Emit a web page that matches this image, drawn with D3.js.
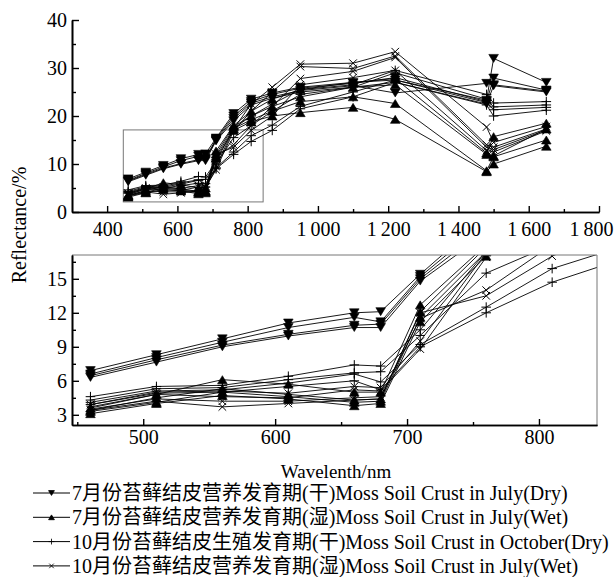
<!DOCTYPE html>
<html>
<head>
<meta charset="utf-8">
<script src="https://cdn.jsdelivr.net/npm/d3@7/dist/d3.min.js"></script>
<style>
  body { margin: 0; background: #fff; }
</style>
</head>
<body>
<div id="chart"></div>
<script>
// wavelengths (nm) measured
var wavelengths = [460, 510, 560, 610, 660, 680, 710, 760, 810, 870, 950, 1100, 1220, 1480, 1500, 1650];

// 7月 干 (dry, July) — 4 samples
var julyDry = [
  [6.9, 8.3, 9.7, 11.1, 12.0, 12.1, 15.4, 20.5, 23.5, 24.8, 26.0, 27.0, 27.5, 23.3, 32.0, 27.0],
  [6.6, 8.05, 9.4, 10.7, 11.6, 11.2, 15.2, 20.0, 23.0, 24.5, 25.8, 26.8, 28.0, 23.0, 27.9, 25.4],
  [6.45, 7.85, 9.15, 10.1, 10.9, 11.0, 15.0, 19.5, 22.7, 24.0, 25.3, 26.3, 24.8, 26.8, 26.5, 25.2],
  [6.3, 7.65, 9.0, 9.95, 10.7, 10.7, 14.8, 19.0, 22.3, 23.7, 25.0, 26.0, 27.0, 22.5, 26.3, 25.0]
];
// 7月 湿 (wet, July)
var julyWet = [
  [3.6, 4.8, 6.1, 5.7, 5.0, 5.0, 12.7, 18.0, 21.0, 23.5, 25.5, 27.0, 27.8, 12.3, 15.7, 18.5],
  [3.4, 4.5, 5.3, 4.8, 4.3, 4.4, 12.1, 17.8, 20.0, 22.0, 24.0, 26.0, 26.5, 12.0, 11.7, 17.3],
  [3.3, 4.1, 5.0, 4.6, 4.1, 4.2, 11.6, 17.4, 19.2, 21.0, 23.0, 24.0, 22.6, 8.6, 11.5, 15.0],
  [3.1, 4.0, 4.7, 4.4, 3.8, 4.0, 11.2, 17.0, 18.8, 20.0, 20.7, 21.8, 19.3, 8.4, 10.0, 13.7]
];
// 10月 干 (dry, October)
var octDry = [
  [4.6, 5.5, 5.6, 6.4, 7.4, 7.3, 10.5, 17.4, 20.0, 22.5, 25.5, 26.5, 29.5, 24.5, 22.7, 23.0],
  [4.3, 5.3, 5.4, 6.1, 6.7, 6.8, 10.0, 15.5, 18.0, 21.0, 24.5, 26.0, 29.0, 23.5, 21.9, 22.3],
  [4.1, 5.1, 5.2, 5.8, 6.6, 5.9, 9.2, 12.5, 15.9, 18.1, 22.0, 25.0, 27.5, 22.8, 21.3, 21.8],
  [3.9, 4.9, 5.0, 5.5, 6.0, 5.2, 9.0, 12.0, 14.7, 17.0, 21.5, 24.0, 27.0, 22.3, 20.0, 21.2]
];
// 10月 湿 (wet, October)
var octWet = [
  [3.9, 5.0, 5.1, 4.9, 5.5, 5.4, 9.5, 17.3, 22.5, 26.0, 30.8, 31.0, 33.4, 17.7, 14.5, 17.8],
  [3.7, 4.8, 4.6, 4.5, 5.2, 5.1, 8.8, 16.9, 21.0, 25.0, 30.3, 29.9, 32.5, 14.0, 13.5, 17.3],
  [3.5, 4.4, 4.2, 4.2, 4.5, 4.6, 11.5, 14.0, 18.0, 22.0, 27.8, 29.3, 32.2, 13.5, 13.0, 17.1],
  [3.4, 4.2, 3.7, 4.0, 4.3, 4.4, 12.0, 13.5, 17.0, 20.0, 26.5, 28.0, 29.5, 12.8, 12.5, 16.9]
];

var legendLabels = [
  "7月份苔藓结皮营养发育期(干)Moss Soil Crust in July(Dry)",
  "7月份苔藓结皮营养发育期(湿)Moss Soil Crust in July(Wet)",
  "10月份苔藓结皮生殖发育期(干)Moss Soil Crust in October(Dry)",
  "10月份苔藓结皮营养发育期(湿)Moss Soil Crust in July(Wet)"
];

var topXTicks = [400, 600, 800, 1000, 1200, 1400, 1600, 1800];
var topYTicks = [0, 10, 20, 30, 40];
var botXTicks = [500, 600, 700, 800];
var botYTicks = [3, 6, 9, 12, 15];

var FONT = '"Liberation Serif", "Times New Roman", "Noto Sans CJK SC", serif';

// marker shapes
var markers = {
  down: "M-4.8,-4L4.8,-4L0,4Z",
  up: "M-4.8,4L4.8,4L0,-4Z",
  plus: "M-4.8,0H4.8M0,-4.8V4.8",
  cross: "M-3.8,-3.8L3.8,3.8M-3.8,3.8L3.8,-3.8"
};

var groups = [
  { data: octDry, shape: "plus" },
  { data: octWet, shape: "cross" },
  { data: julyWet, shape: "up" },
  { data: julyDry, shape: "down" }
];
var legendShapes = ["down", "up", "plus", "cross"];

var W = 616, H = 577;
var svg = d3.select("#chart").append("svg")
  .attr("width", W)
  .attr("height", H);

// ---------- top panel ----------
var x1 = d3.scaleLinear().domain([300, 1800]).range([72, 599]);
var y1 = d3.scaleLinear().domain([0, 40]).range([212, 20]);

// ---------- bottom panel ----------
var x2 = d3.scaleLinear().domain([446, 844]).range([72, 597]);
var y2 = d3.scaleLinear().domain([2.1, 17.1]).range([425, 255]);

svg.append("defs").append("clipPath").attr("id", "clip2")
  .append("rect")
  .attr("x", x2.range()[0]).attr("y", y2.range()[1])
  .attr("width", x2.range()[1] - x2.range()[0])
  .attr("height", y2.range()[0] - y2.range()[1]);

function drawSeries(g, xs, ys) {
  groups.forEach(function(grp) {
    grp.data.forEach(function(vals) {
      var pts = wavelengths.map(function(w, i) { return [w, vals[i]]; });
      var line = d3.line().x(function(d) { return xs(d[0]); }).y(function(d) { return ys(d[1]); });
      g.append("path")
        .attr("d", line(pts))
        .attr("fill", "none")
        .attr("stroke", "#000")
        .attr("stroke-width", 0.9);
    });
  });
  groups.forEach(function(grp) {
    var filled = grp.shape == "up" || grp.shape == "down";
    grp.data.forEach(function(vals) {
      g.selectAll(null)
        .data(wavelengths.map(function(w, i) { return [w, vals[i]]; }))
        .enter().append("path")
        .attr("transform", function(d) { return "translate(" + xs(d[0]) + "," + ys(d[1]) + ")"; })
        .attr("d", markers[grp.shape])
        .attr("fill", filled ? "#000" : "none")
        .attr("stroke", "#000")
        .attr("stroke-width", filled ? 0.6 : 1);
    });
  });
}

// zoom window in the top panel
svg.append("rect")
  .attr("x", x1(x2.domain()[0]))
  .attr("y", y1(y2.domain()[1]))
  .attr("width", x1(x2.domain()[1]) - x1(x2.domain()[0]))
  .attr("height", y1(y2.domain()[0]) - y1(y2.domain()[1]))
  .attr("fill", "none")
  .attr("stroke", "#777")
  .attr("stroke-width", 1);

drawSeries(svg.append("g"), x1, y1);

var fmtK = function(d) { return d >= 1000 ? Math.floor(d / 1000) + "\u2009" + d3.format("03d")(d % 1000) : d; };

// top axes
var gx1 = svg.append("g").attr("transform", "translate(0," + y1(0) + ")")
  .call(d3.axisBottom(x1).tickValues(topXTicks).tickSize(-6).tickSizeOuter(0).tickPadding(10).tickFormat(fmtK));
svg.append("g").attr("transform", "translate(0," + y1(0) + ")")
  .call(d3.axisBottom(x1).tickValues(d3.range(500, 1800, 200)).tickSize(-3).tickSizeOuter(0).tickFormat(""));
var gy1 = svg.append("g").attr("transform", "translate(" + x1(300) + ",0)")
  .call(d3.axisLeft(y1).tickValues(topYTicks).tickSize(-7).tickSizeOuter(0).tickPadding(5));
svg.append("g").attr("transform", "translate(" + x1(300) + ",0)")
  .call(d3.axisLeft(y1).tickValues([5, 15, 25, 35]).tickSize(-4).tickSizeOuter(0).tickFormat(""));

// bottom panel
drawSeries(svg.append("g").attr("clip-path", "url(#clip2)"), x2, y2);

// gray frame (top/right)
svg.append("path")
  .attr("d", "M" + x2.range()[0] + "," + y2.range()[1] + "H" + x2.range()[1] + "V" + y2.range()[0])
  .attr("fill", "none")
  .attr("stroke", "#777")
  .attr("stroke-width", 1);

var gx2 = svg.append("g").attr("transform", "translate(0," + y2.range()[0] + ")")
  .call(d3.axisBottom(x2).tickValues(botXTicks).tickSize(-6).tickSizeOuter(0).tickPadding(5));
svg.append("g").attr("transform", "translate(0," + y2.range()[0] + ")")
  .call(d3.axisBottom(x2).tickValues([450, 550, 650, 750]).tickSize(-3).tickSizeOuter(0).tickFormat(""));
var gy2 = svg.append("g").attr("transform", "translate(" + x2.range()[0] + ",0)")
  .call(d3.axisLeft(y2).tickValues(botYTicks).tickSize(-7).tickSizeOuter(0).tickPadding(5));
svg.append("g").attr("transform", "translate(" + x2.range()[0] + ",0)")
  .call(d3.axisLeft(y2).tickValues([4.5, 7.5, 10.5, 13.5, 16.5]).tickSize(-4).tickSizeOuter(0).tickFormat(""));

svg.selectAll(".domain").attr("stroke", "#000").attr("stroke-width", 1.6);
svg.selectAll(".tick line").attr("stroke", "#000").attr("stroke-width", 1.4);
svg.selectAll(".tick text").style("font-family", FONT).style("font-size", "20px");

// keep the last top label inside the picture
gx1.selectAll(".tick text").filter(function(d) { return d == 1800; })
  .attr("text-anchor", "end").attr("dx", 14);

// axis titles
svg.append("text")
  .attr("transform", "translate(26,225) rotate(-90)")
  .attr("text-anchor", "middle")
  .style("font-family", FONT)
  .style("font-size", "20px")
  .text("Reflectance/%");

svg.append("text")
  .attr("x", 336).attr("y", 478)
  .attr("text-anchor", "middle")
  .style("font-family", FONT)
  .style("font-size", "19px")
  .text("Wavelenth/nm");

// legend
var legend = svg.selectAll(".legend")
  .data(legendLabels)
  .enter().append("g")
  .attr("class", "legend")
  .attr("transform", function(d, i) { return "translate(0," + (493 + i * 24.3) + ")"; });

legend.append("line")
  .attr("x1", 33).attr("x2", 70)
  .attr("stroke", "#000").attr("stroke-width", 1);
legend.append("path")
  .attr("transform", "translate(51.5,0) scale(0.6)")
  .attr("d", function(d, i) { return markers[legendShapes[i]]; })
  .attr("fill", function(d, i) { return i < 2 ? "#000" : "none"; })
  .attr("stroke", "#000")
  .attr("stroke-width", 1.4);
legend.append("text")
  .attr("x", 72).attr("y", 7)
  .style("font-family", FONT)
  .style("font-size", "20px")
  .text(function(d) { return d; });
</script>
</body>
</html>
